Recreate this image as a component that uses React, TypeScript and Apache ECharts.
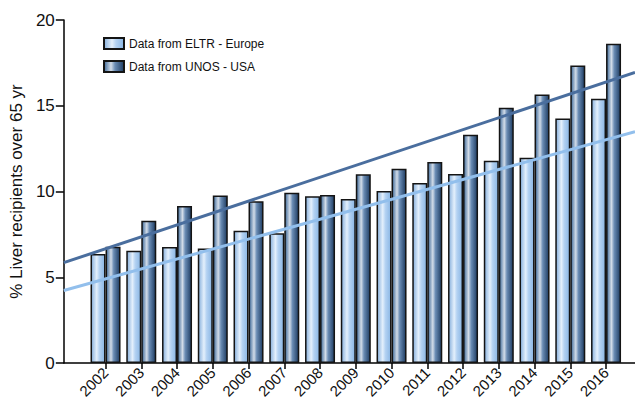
import React, { useEffect, useRef } from "react";
import * as echarts from "echarts";

const years = [2002, 2003, 2004, 2005, 2006, 2007, 2008, 2009, 2010, 2011, 2012, 2013, 2014, 2015, 2016];
const europe = [6.36, 6.55, 6.76, 6.67, 7.71, 7.56, 9.72, 9.56, 10.03, 10.5, 11.02, 11.8, 11.97, 14.25, 15.41];
const usa = [6.78, 8.3, 9.15, 9.76, 9.43, 9.93, 9.8, 11.0, 11.33, 11.72, 13.31, 14.89, 15.65, 17.34, 18.62];
const trendX = [2000.833, 2016.81];
const europeTrend = [4.23, 13.49];
const usaTrend = [5.85, 16.95];
const yTicks = [0, 5, 10, 15, 20];

const FONT = "Liberation Sans, Arial, sans-serif";

export default function App() {
  const ref = useRef<HTMLDivElement>(null);
  useEffect(() => {
    if (!ref.current) return;
    const chart = echarts.init(ref.current, undefined, { renderer: "svg" });
    const lightGrad = new echarts.graphic.LinearGradient(0, 0, 1, 0, [
      { offset: 0, color: "#86afdc" },
      { offset: 0.4, color: "#e4f0fc" },
      { offset: 0.6, color: "#b4d2f2" },
      { offset: 1, color: "#8ab6e4" },
    ]);
    const darkGrad = new echarts.graphic.LinearGradient(0, 0, 1, 0, [
      { offset: 0, color: "#3c6898" },
      { offset: 0.35, color: "#d2dce8" },
      { offset: 0.55, color: "#6a8cb4" },
      { offset: 1, color: "#1e3c62" },
    ]);
    chart.setOption({
      animation: false,
      backgroundColor: "#ffffff",
      grid: { left: 60, right: 0, top: 20, bottom: 40, containLabel: false },
      legend: {
        data: ["Data from ELTR - Europe", "Data from UNOS - USA"],
        orient: "vertical",
        left: 98,
        top: 32,
        icon: "rect",
        itemWidth: 20,
        itemHeight: 11,
        itemGap: 10,
        textStyle: { fontFamily: FONT, fontSize: 12, color: "#111" },
      },
      xAxis: {
        type: "value",
        min: trendX[0],
        max: trendX[1],
        splitLine: { show: false },
        axisLine: { show: true, lineStyle: { color: "#000", width: 1.5 } },
        axisTick: { show: true, length: 6, customValues: years, lineStyle: { color: "#000", width: 1.5 } },
        axisLabel: {
          customValues: years,
          rotate: 45,
          margin: 7,
          fontFamily: FONT,
          fontSize: 15,
          color: "#111",
          formatter: (v: number) => String(Math.round(v)),
        },
      },
      yAxis: {
        type: "value",
        min: 0,
        max: 20,
        interval: 5,
        name: "% Liver recipients over 65 yr",
        nameLocation: "middle",
        nameGap: 34,
        nameTextStyle: { fontFamily: FONT, fontSize: 17, color: "#111" },
        splitLine: { show: false },
        axisLine: { show: true, lineStyle: { color: "#000", width: 1.5 } },
        axisTick: { show: true, length: 8, customValues: yTicks, lineStyle: { color: "#000", width: 1.5 } },
        axisLabel: {
          margin: 9,
          fontFamily: FONT,
          fontSize: 17,
          color: "#111",
          customValues: yTicks,
        },
      },
      series: [
        {
          name: "Data from ELTR - Europe",
          type: "bar",
          barWidth: 15,
          barGap: "0%",
          data: years.map((y, i) => [y, europe[i]]),
          itemStyle: { color: lightGrad, borderColor: "#141414", borderWidth: 1.5 },
        },
        {
          name: "Data from UNOS - USA",
          type: "bar",
          barWidth: 15,
          barGap: "0%",
          data: years.map((y, i) => [y, usa[i]]),
          itemStyle: { color: darkGrad, borderColor: "#141414", borderWidth: 1.5 },
        },
        {
          name: "usaTrend",
          type: "line",
          symbol: "none",
          z: 5,
          data: trendX.map((x, i) => [x, usaTrend[i]]),
          lineStyle: { color: "#4a6e9e", width: 3 },
        },
        {
          name: "europeTrend",
          type: "line",
          symbol: "none",
          z: 5,
          data: trendX.map((x, i) => [x, europeTrend[i]]),
          lineStyle: { color: "#92bfec", width: 3 },
        },
      ],
    });
    return () => chart.dispose();
  }, []);
  return (
    <div
      ref={ref}
      style={{ position: "absolute", left: 0, top: 0, width: 635, height: 403 }}
    />
  );
}
